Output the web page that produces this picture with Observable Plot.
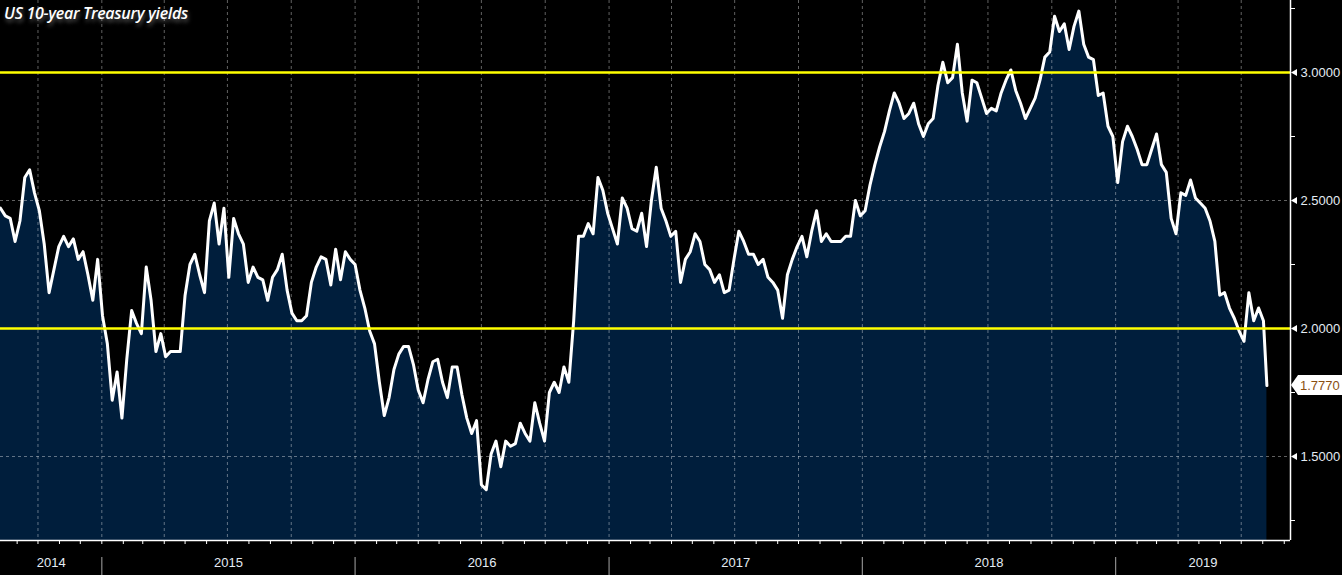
<!DOCTYPE html>
<html>
<head>
<meta charset="utf-8">
<script src="https://cdn.jsdelivr.net/npm/d3@7"></script>
<script src="https://cdn.jsdelivr.net/npm/@observablehq/plot@0.6"></script>
<style>
  html, body { margin: 0; padding: 0; background: #000; }
  #wrap { position: relative; width: 1342px; height: 575px; overflow: hidden; }
  #title {
    position: absolute; left: 4px; top: 2px;
    font-family: "Open Sans", "DejaVu Sans", sans-serif;
    font-style: italic; font-weight: 600; font-size: 16px;
    color: #fff; letter-spacing: -0.3px;
    text-shadow: 1px 3px 4px rgba(170,170,170,0.55);
  }
</style>
</head>
<body>
<div id="wrap"><div id="title">US 10-year Treasury yields</div></div>
<script>
// ---- data ----
const title = "US 10-year Treasury yields";
const firstWeek = "2014-08-08";           // first weekly observation
const weeklyYields = [
  2.47,2.44,2.43,2.34,2.42,2.59,2.62,2.53,2.46,2.33,
  2.14,2.23,2.32,2.36,2.32,2.35,2.27,2.30,2.21,2.11,
  2.27,2.05,1.94,1.72,1.83,1.65,1.88,2.07,2.02,1.98,
  2.24,2.11,1.91,1.98,1.89,1.91,1.91,1.91,2.13,2.25,
  2.29,2.21,2.14,2.42,2.49,2.33,2.47,2.20,2.43,2.37,
  2.33,2.18,2.24,2.20,2.19,2.11,2.20,2.23,2.29,2.15,
  2.06,2.03,2.03,2.05,2.18,2.24,2.28,2.27,2.17,2.31,
  2.19,2.30,2.27,2.25,2.15,2.08,1.99,1.94,1.79,1.66,
  1.73,1.84,1.90,1.93,1.93,1.86,1.76,1.71,1.80,1.87,
  1.88,1.79,1.73,1.85,1.85,1.74,1.65,1.59,1.64,1.39,
  1.37,1.51,1.56,1.46,1.56,1.54,1.55,1.63,1.59,1.56,
  1.71,1.63,1.56,1.75,1.79,1.75,1.85,1.79,2.03,2.36,
  2.36,2.41,2.37,2.59,2.54,2.45,2.39,2.33,2.51,2.47,
  2.39,2.38,2.45,2.32,2.50,2.63,2.47,2.42,2.36,2.38,
  2.18,2.27,2.30,2.37,2.34,2.25,2.23,2.18,2.21,2.14,
  2.15,2.27,2.38,2.34,2.29,2.29,2.25,2.27,2.20,2.18,
  2.15,2.04,2.21,2.27,2.32,2.36,2.28,2.38,2.46,2.34,
  2.37,2.34,2.34,2.34,2.36,2.36,2.50,2.44,2.46,2.56,
  2.64,2.71,2.77,2.85,2.92,2.88,2.82,2.84,2.88,2.80,
  2.75,2.80,2.82,2.95,3.04,2.96,2.98,3.11,2.92,2.81,
  2.97,2.96,2.90,2.84,2.86,2.85,2.92,2.97,3.01,2.93,
  2.88,2.82,2.86,2.90,2.97,3.06,3.08,3.22,3.16,3.19,
  3.09,3.18,3.24,3.11,3.06,3.05,2.91,2.92,2.79,2.75,
  2.57,2.73,2.79,2.75,2.70,2.64,2.64,2.70,2.76,2.64,
  2.61,2.43,2.37,2.53,2.52,2.58,2.51,2.49,2.47,2.42,
  2.34,2.13,2.14,2.08,2.04,1.99,1.95,2.14,2.03,2.08,
  2.03
];
const lastDate = "2019-08-07";
const lastValue = 1.777;
const levelLines = [2.0, 3.0];
const labeledTicks = [1.5, 2.0, 2.5, 3.0];
const minorTicks = [1.25, 1.75, 2.25, 2.75, 3.25];
const yearLabels = ["2014", "2015", "2016", "2017", "2018", "2019"];
const xDomain = ["2014-08-08", "2019-09-10"];
const yDomain = [1.171875, 3.28125];

// ---- build table ----
const start = new Date(firstWeek);
const series = weeklyYields.map((v, i) => ({date: d3.utcDay.offset(start, 7 * i), value: v}));
series.push({date: new Date(lastDate), value: lastValue});

const x0 = new Date(xDomain[0]), x1 = new Date(xDomain[1]);
const yearStarts = yearLabels.slice(1).map(y => new Date(`${y}-01-01`));
const yearMids = yearLabels.map(y => {
  const a = Math.max(+new Date(`${y}-01-01`), +x0);
  const b = Math.min(+new Date(`${+y + 1}-01-01`), +x1);
  return {date: new Date((a + b) / 2), label: y};
});
const quarters = d3.utcMonth.every(3).range(x0, x1);
const months = d3.utcMonth.range(x0, x1);
const fmt = d3.format(".4f");

function lastTag(index, scales, values, dims) {
  const y = scales.y(lastValue);
  const xa = dims.width - dims.marginRight;
  const g = d3.create("svg:g");
  g.append("path")
    .attr("d", `M${xa + 1},${y} L${xa + 8},${y - 10} H${dims.width} V${y + 10} H${xa + 8} Z`)
    .attr("fill", "#ffffff");
  g.append("text")
    .attr("x", xa + 10).attr("y", y).attr("dy", "0.35em")
    .attr("text-anchor", "start")
    .attr("fill", "#8a4f12")
    .attr("font-size", 13)
    .text(fmt(lastValue));
  return g.node();
}

const chart = Plot.plot({
  width: 1342,
  height: 575,
  marginLeft: 0,
  marginRight: 52,
  marginTop: 0,
  marginBottom: 35,
  style: {background: "#000", color: "#e4ecf4", fontFamily: "'Liberation Sans', Arial, sans-serif", fontSize: "13px"},
  x: {type: "utc", domain: [x0, x1], label: null},
  y: {domain: yDomain, label: null},
  marks: [
    Plot.areaY(series, {x: "date", y1: yDomain[0], y2: "value", fill: "#001e3c"}),
    Plot.gridX({ticks: quarters, stroke: "#ffffff", strokeOpacity: 0.38, strokeDasharray: "3,3"}),
    Plot.gridY({ticks: labeledTicks, stroke: "#ffffff", strokeOpacity: 0.38, strokeDasharray: "3,3"}),
    Plot.lineY(series, {x: "date", y: "value", stroke: "#ffffff", strokeWidth: 3, strokeLinejoin: "round"}),
    Plot.ruleY(levelLines, {stroke: "#ffff00", strokeWidth: 2.6}),
    Plot.ruleY([yDomain[0]], {stroke: "#ffffff", strokeWidth: 1.5}),
    Plot.ruleX([x1], {stroke: "#ffffff", strokeWidth: 1.5}),
    Plot.axisX({ticks: months, tickSize: 4, tickFormat: () => "", stroke: "#ffffff", label: null}),
    Plot.ruleX(yearStarts, {stroke: "#8c8c8c", strokeWidth: 1.2, dy: 557, insetBottom: 522}),
    Plot.text(yearMids, {x: "date", text: "label", frameAnchor: "bottom", dy: 26, fill: "#e4ecf4", fontSize: 13}),
    Plot.axisY({anchor: "right", ticks: minorTicks, tickSize: 4, tickFormat: () => "", stroke: "#ffffff", label: null}),
    Plot.axisY({anchor: "right", ticks: labeledTicks, tickSize: 0, tickPadding: 10, tickFormat: fmt, fill: "#e4ecf4", label: null}),
    Plot.dot(labeledTicks, {x: () => x1, y: d => d, symbol: "triangle", rotate: -90, r: 2.6, fill: "#ffffff", dx: 4.5}),
    lastTag
  ]
});
document.getElementById("wrap").prepend(chart);
</script>
</body>
</html>
